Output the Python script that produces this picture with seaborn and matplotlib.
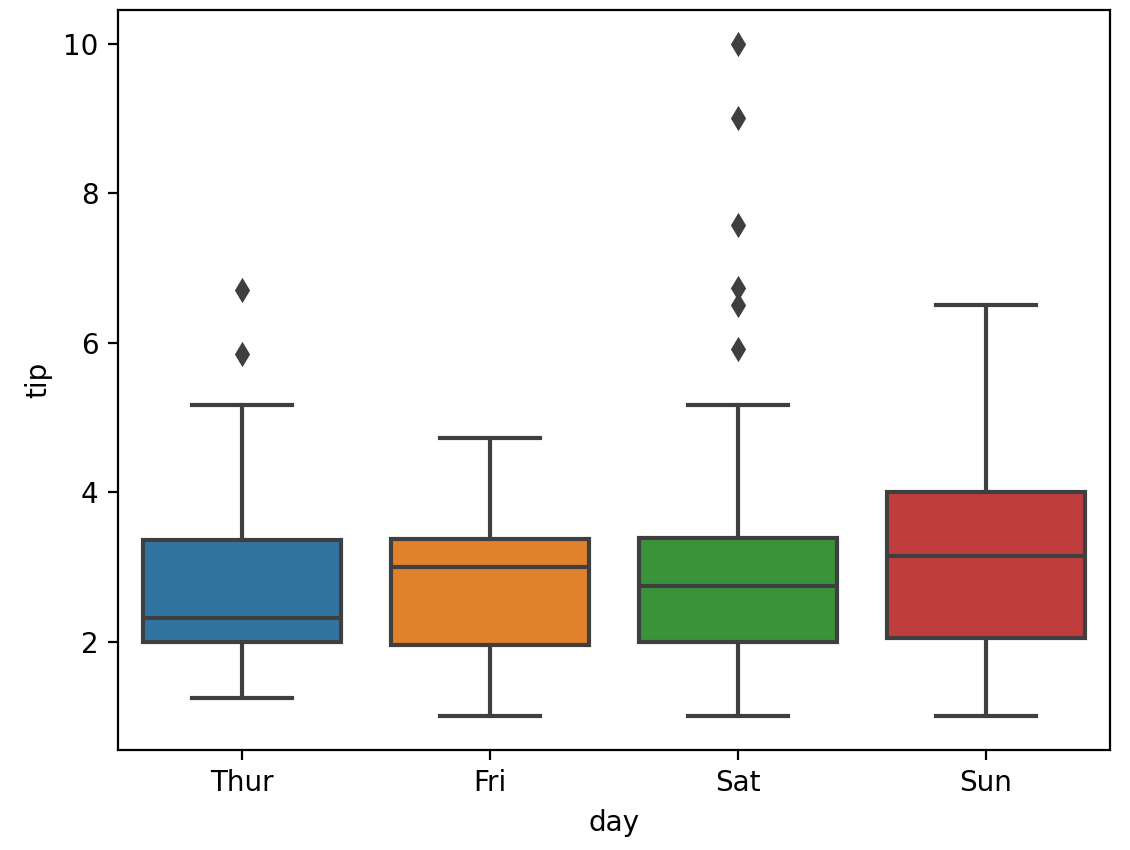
import numpy as np
import pandas as pd
import matplotlib
matplotlib.use('Agg')
import matplotlib.pyplot as plt
import seaborn as sns

# tips per day, values picked so quartiles, whiskers and outliers match the chart
days = ['Thur', 'Fri', 'Sat', 'Sun']
thur_tips = [1.25, 1.5, 1.8, 2.0, 2.1, 2.2, 2.31, 2.5, 3.0, 3.36, 5.17, 5.85, 6.7]
fri_tips = [1.0, 1.5, 1.96, 2.5, 3.0, 3.2, 3.37, 4.0, 4.73]
sat_tips = [1.0, 1.25, 1.45, 1.5, 1.75, 1.8, 1.9, 2.0, 2.2, 2.3, 2.5, 2.5, 2.6, 2.7,
            2.75, 2.9, 3.0, 3.0, 3.1, 3.2, 3.3, 3.39, 5.16, 5.92, 6.5, 6.73, 7.58, 9.0, 10.0]
sun_tips = [1.01, 1.5, 2.05, 2.5, 3.15, 3.5, 4.0, 5.0, 6.5]

df = pd.DataFrame({
    'day': ['Thur'] * len(thur_tips) + ['Fri'] * len(fri_tips)
           + ['Sat'] * len(sat_tips) + ['Sun'] * len(sun_tips),
    'tip': thur_tips + fri_tips + sat_tips + sun_tips,
})

fig = plt.figure(figsize=(5.65, 4.25), dpi=200)
ax = fig.add_axes([0.1044, 0.1176, 0.8779, 0.8706])

sns.boxplot(data=df, x='day', y='tip', hue='day', order=days, hue_order=days,
            palette='tab10', saturation=0.75, linecolor='#3f3f3f', linewidth=1.5,
            legend=False, ax=ax,
            flierprops={'marker': 'd', 'markerfacecolor': '#3f3f3f',
                        'markeredgecolor': '#3f3f3f', 'markersize': 5})

plt.savefig('out.png', dpi=200)
plt.close()
